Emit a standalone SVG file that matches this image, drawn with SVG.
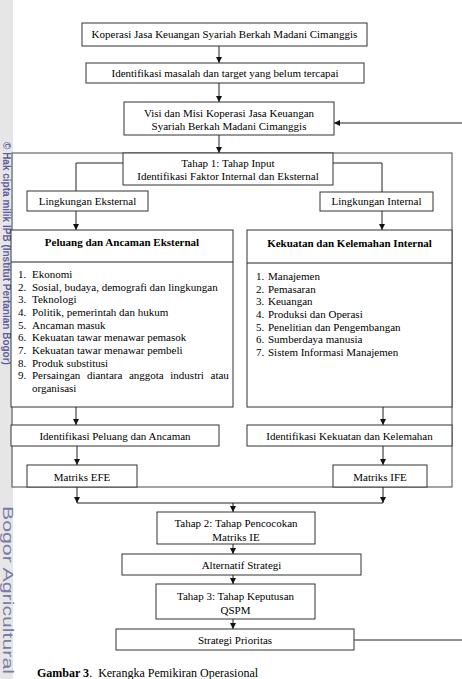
<svg xmlns="http://www.w3.org/2000/svg" width="462" height="679" viewBox="0 0 462 679">
<style>
.b{fill:#fff;stroke:#333;stroke-width:1}
.f{fill:none;stroke:#666;stroke-width:1.2}
.t{font-family:"Liberation Serif","Times New Roman",serif;font-size:11px;fill:#000}
.c{text-anchor:middle}
.h{font-weight:bold}
.l{fill:none;stroke:#222;stroke-width:1}
</style>
<defs>
<marker id="a" viewBox="0 0 6 6" refX="6" refY="3" markerWidth="6" markerHeight="6" orient="auto" markerUnits="userSpaceOnUse">
<path d="M0,0 L6,3 L0,6 z" fill="#111"/>
</marker>
</defs>
<rect x="0" y="0" width="462" height="679" fill="#fff"/>
<rect x="0" y="0" width="13" height="679" fill="#e6e6e6"/>
<g id="watermark">
<text transform="translate(3,142) rotate(90)" font-family="Liberation Sans,Arial,sans-serif" font-size="10" font-weight="bold" fill="#5e5e9e">© Hak cipta milik IPB (Institut Pertanian Bogor)</text>
<text transform="translate(3,506) rotate(90)" font-family="Liberation Sans,Arial,sans-serif" font-size="14" fill="#7a7aa6" textLength="168" lengthAdjust="spacingAndGlyphs">Bogor Agricultural</text>
</g>
<g id="frame">
<rect class="f" x="12" y="153" width="440" height="334"/>
</g>
<g id="connectors">
<path class="l" d="M219,46 V63" marker-end="url(#a)"/>
<path class="l" d="M219,83 V102" marker-end="url(#a)"/>
<path class="l" d="M219,135 V153" marker-end="url(#a)"/>
<path class="l" d="M462,123 H334" marker-end="url(#a)"/>
<path class="l" d="M123,163 H76 V191"/>
<path class="l" d="M333,163 H382 V192"/>
<path class="l" d="M76,211 V230" marker-end="url(#a)"/>
<path class="l" d="M382,211 V230" marker-end="url(#a)"/>
<path class="l" d="M76,407 V425" marker-end="url(#a)"/>
<path class="l" d="M383,407 V425" marker-end="url(#a)"/>
<path class="l" d="M77,446 V465" marker-end="url(#a)"/>
<path class="l" d="M383,446 V465" marker-end="url(#a)"/>
<path class="l" d="M77,487 V503" marker-end="url(#a)"/>
<path class="l" d="M383,487 V503" marker-end="url(#a)"/>
<path class="l" d="M77,503 H383"/>
<path class="l" d="M233,503 V512" marker-end="url(#a)"/>
<path class="l" d="M233,544 V554" marker-end="url(#a)"/>
<path class="l" d="M233,575 V584" marker-end="url(#a)"/>
<path class="l" d="M233,619 V629" marker-end="url(#a)"/>
<path class="l" d="M354,640 H462"/>
</g>
<g id="n1"><rect class="b" x="82" y="23" width="285" height="23"/><text class="t c" x="224.5" y="38">Koperasi Jasa Keuangan Syariah Berkah Madani Cimanggis</text></g>
<g id="n2"><rect class="b" x="86" y="63" width="278" height="20"/><text class="t c" x="225" y="77">Identifikasi masalah dan target yang belum tercapai</text></g>
<g id="n3"><rect class="b" x="124" y="102" width="210" height="33"/><text class="t c" x="229" y="117">Visi dan Misi Koperasi Jasa Keuangan</text><text class="t c" x="229" y="130">Syariah Berkah Madani Cimanggis</text></g>
<g id="n4"><rect class="b" x="123" y="153" width="210" height="32"/><text class="t c" x="228" y="167">Tahap 1: Tahap Input</text><text class="t c" x="228" y="180">Identifikasi Faktor Internal dan Eksternal</text></g>
<g id="n5"><rect class="b" x="27" y="191" width="121" height="20"/><text class="t c" x="87.5" y="205">Lingkungan Eksternal</text></g>
<g id="n6"><rect class="b" x="320" y="192" width="113" height="19"/><text class="t c" x="376.5" y="205">Lingkungan Internal</text></g>
<g id="n7"><rect class="b" x="11" y="230" width="222" height="177"/><line class="l" x1="11" y1="262" x2="233" y2="262"/>
<text class="t c h" x="122" y="246">Peluang dan Ancaman Eksternal</text>
<text class="t" x="18" y="278">1.</text><text class="t" x="32" y="278">Ekonomi</text>
<text class="t" x="18" y="290.6">2.</text><text class="t" x="32" y="290.6">Sosial, budaya, demografi dan lingkungan</text>
<text class="t" x="18" y="303.3">3.</text><text class="t" x="32" y="303.3">Teknologi</text>
<text class="t" x="18" y="316">4.</text><text class="t" x="32" y="316">Politik, pemerintah dan hukum</text>
<text class="t" x="18" y="328.6">5.</text><text class="t" x="32" y="328.6">Ancaman masuk</text>
<text class="t" x="18" y="341.3">6.</text><text class="t" x="32" y="341.3">Kekuatan tawar menawar pemasok</text>
<text class="t" x="18" y="354">7.</text><text class="t" x="32" y="354">Kekuatan tawar menawar pembeli</text>
<text class="t" x="18" y="366.6">8.</text><text class="t" x="32" y="366.6">Produk substitusi</text>
<text class="t" x="18" y="379.3">9.</text><text class="t" y="379.3"><tspan x="32">Persaingan</tspan> <tspan x="86.9">diantara</tspan> <tspan x="128.9">anggota</tspan> <tspan x="170.3">industri</tspan> <tspan x="210.5">atau</tspan></text>
<text class="t" x="32" y="392">organisasi</text>
</g>
<g id="n8"><rect class="b" x="247" y="230" width="205" height="177"/><line class="l" x1="247" y1="263" x2="452" y2="263"/>
<text class="t c h" x="349.5" y="247">Kekuatan dan Kelemahan Internal</text>
<text class="t" x="256" y="280">1.</text><text class="t" x="268" y="280">Manajemen</text>
<text class="t" x="256" y="292.6">2.</text><text class="t" x="268" y="292.6">Pemasaran</text>
<text class="t" x="256" y="305.3">3.</text><text class="t" x="268" y="305.3">Keuangan</text>
<text class="t" x="256" y="318">4.</text><text class="t" x="268" y="318">Produksi dan Operasi</text>
<text class="t" x="256" y="330.6">5.</text><text class="t" x="268" y="330.6">Penelitian dan Pengembangan</text>
<text class="t" x="256" y="343.3">6.</text><text class="t" x="268" y="343.3">Sumberdaya manusia</text>
<text class="t" x="256" y="356">7.</text><text class="t" x="268" y="356">Sistem Informasi Manajemen</text>
</g>
<g id="n9"><rect class="b" x="11" y="425" width="208" height="21"/><text class="t c" x="115" y="440">Identifikasi Peluang dan Ancaman</text></g>
<g id="n10"><rect class="b" x="247" y="425" width="205" height="21"/><text class="t c" x="349.5" y="440">Identifikasi Kekuatan dan Kelemahan</text></g>
<g id="n11"><rect class="b" x="27" y="465" width="110" height="22"/><text class="t c" x="82" y="481">Matriks EFE</text></g>
<g id="n12"><rect class="b" x="333" y="465" width="94" height="22"/><text class="t c" x="380" y="481">Matriks IFE</text></g>
<g id="n13"><rect class="b" x="157" y="512" width="158" height="32"/><text class="t c" x="236" y="527">Tahap 2: Tahap Pencocokan</text><text class="t c" x="236" y="541">Matriks IE</text></g>
<g id="n14"><rect class="b" x="122" y="554" width="239" height="21"/><text class="t c" x="241.5" y="569">Alternatif Strategi</text></g>
<g id="n15"><rect class="b" x="156" y="584" width="159" height="35"/><text class="t c" x="235.5" y="600">Tahap 3: Tahap Keputusan</text><text class="t c" x="235.5" y="614">QSPM</text></g>
<g id="n16"><rect class="b" x="116" y="629" width="238" height="21"/><text class="t c" x="235" y="644">Strategi Prioritas</text></g>
<text class="t" x="37" y="677" style="font-size:12px" xml:space="preserve"><tspan font-weight="bold">Gambar 3</tspan>.  Kerangka Pemikiran Operasional</text>
</svg>
